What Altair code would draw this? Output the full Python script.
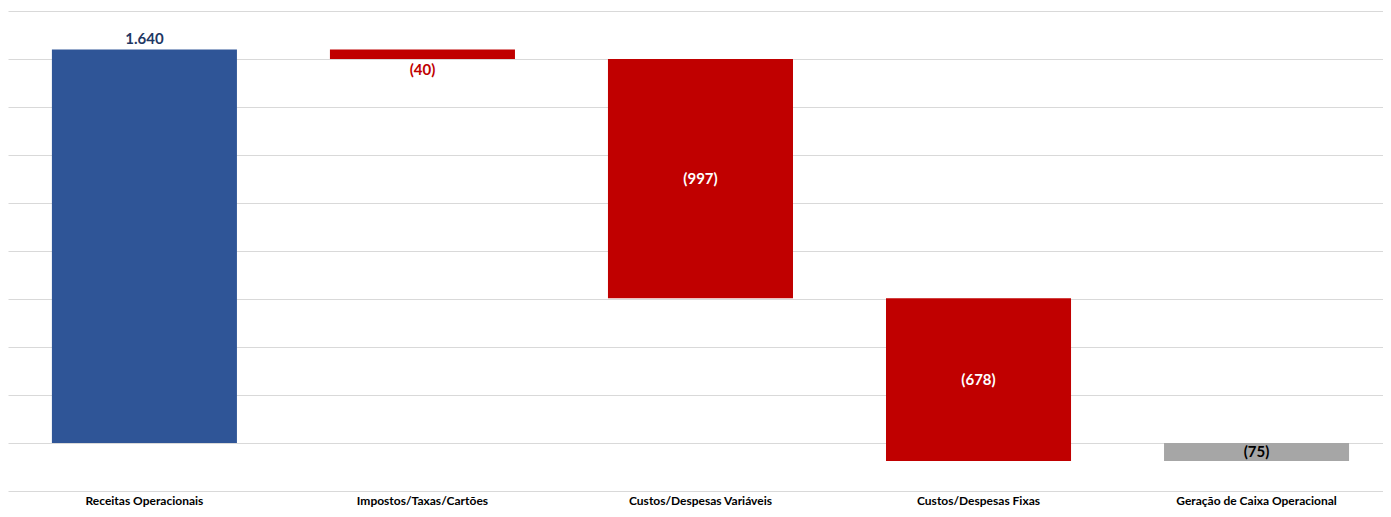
import altair as alt
import pandas as pd

categories = ["Receitas Operacionais", "Impostos/Taxas/Cartões", "Custos/Despesas Variáveis",
              "Custos/Despesas Fixas", "Geração de Caixa Operacional"]
values = [1640, -40, -997, -678, -75]
kinds = ["receita", "despesa", "despesa", "despesa", "total"]

rows = []
running = 0
for i, (c, v, k) in enumerate(zip(categories, values, kinds)):
    if k == "total":
        start, end = 0, v
    else:
        start, end = running, running + v
        running = end
    lab = f"{abs(v):,}".replace(",", ".")
    if v < 0:
        lab = f"({lab})"
    if k == "receita":
        place = "above"
    elif k == "despesa" and abs(v) < 100:
        place = "below"
    else:
        place = "middle"
    rows.append(dict(cat=c, start=start, end=end, kind=k, label=lab, place=place,
                     top=max(start, end), bottom=min(start, end), mid=(start + end) / 2))
df = pd.DataFrame(rows)

FONT = "Lato"

x = alt.X("cat:N", sort=categories, title=None,
          scale=alt.Scale(paddingInner=0.3345, paddingOuter=0.14, align=0.564),
          axis=alt.Axis(labelAngle=0, labelFont=FONT, labelFontSize=12, labelFontWeight="bold",
                        labelColor="#000000", domain=False, ticks=False, grid=False,
                        labelPadding=4, labelLimit=400))
yscale = alt.Scale(domain=[-200, 1800], nice=False, zero=False)

base = alt.Chart(df)

bars = base.mark_bar().encode(
    x=x,
    y=alt.Y("start:Q", scale=yscale, title=None,
            axis=alt.Axis(values=list(range(-200, 1801, 200)), labels=False, ticks=False,
                          domain=False, grid=True, gridColor="#d9d9d9", gridWidth=1)),
    y2="end:Q",
    color=alt.Color("kind:N", legend=None,
                    scale=alt.Scale(domain=["receita", "despesa", "total"],
                                    range=["#2F5597", "#C00000", "#A6A6A6"])),
)

above = base.transform_filter("datum.place == 'above'").mark_text(
    font=FONT, fontSize=15, fontWeight="bold", color="#1F3864", baseline="bottom", dy=-2
).encode(x=alt.X("cat:N", sort=categories), y=alt.Y("top:Q", scale=yscale), text="label:N")

below = base.transform_filter("datum.place == 'below'").mark_text(
    font=FONT, fontSize=15, fontWeight="bold", color="#C00000", baseline="top", dy=4
).encode(x=alt.X("cat:N", sort=categories), y=alt.Y("bottom:Q", scale=yscale), text="label:N")

middle = base.transform_filter("datum.place == 'middle'").mark_text(
    font=FONT, fontSize=15, fontWeight="bold", baseline="middle"
).encode(
    x=alt.X("cat:N", sort=categories), y=alt.Y("mid:Q", scale=yscale), text="label:N",
    color=alt.Color("kind:N", legend=None,
                    scale=alt.Scale(domain=["receita", "despesa", "total"],
                                    range=["#ffffff", "#ffffff", "#000000"])),
)

chart = alt.layer(bars, above, below, middle).resolve_scale(color="independent").properties(
    width=1375, height=480,
    autosize=alt.AutoSizeParams(type="none"),
    padding={"top": 3, "left": 0, "right": 0, "bottom": 17},
    view=alt.ViewBackground(stroke="transparent", strokeWidth=0),
).configure_view(stroke="transparent", strokeWidth=0).configure_axis(domain=False).configure(background="#ffffff")

chart.save("out.html", embed_options={"renderer": "svg", "actions": False})
